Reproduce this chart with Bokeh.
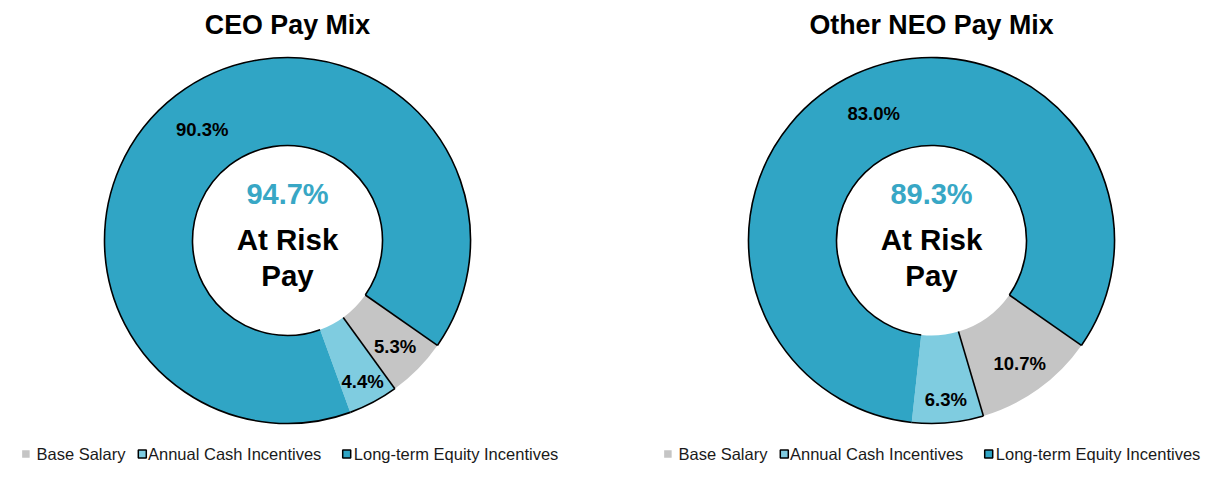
import math
from bokeh.plotting import figure
from bokeh.models import Range1d
from bokeh.core.properties import value
from bokeh.embed import file_html
from bokeh.resources import INLINE

# ---------------- data ----------------
categories = ["Base Salary", "Annual Cash Incentives", "Long-term Equity Incentives"]
titles = ["CEO Pay Mix", "Other NEO Pay Mix"]
ceo_values = [5.3, 4.4, 90.3]
neo_values = [10.7, 6.3, 83.0]
at_risk = [94.7, 89.3]
center_lines = ["At Risk", "Pay"]

# ---------------- style ----------------
colors = ["#C5C5C5", "#7FCCE0", "#30A5C5"]
risk_color = "#38A7C5"
FONT = "Liberation Sans"
first_slice_deg = 125.0          # clockwise from 12 o'clock
label_radius = [151, 160, 140]   # label distance per slice
W, H = 1201, 464
R_OUT, R_IN = 183, 95
centers = [(287, 240), (931, 240)]   # reference pixel coords
legend_offsets = [0, 642]

def Y(py):  # reference pixel y -> data y
    return 480 - py

p = figure(width=W, height=H, x_range=Range1d(0, W), y_range=Range1d(480 - H, 480),
           output_backend="svg", toolbar_location=None, x_axis_type=None, y_axis_type=None,
           min_border=0, outline_line_color=None, background_fill_color="white",
           border_fill_color="white")
p.grid.visible = False

for k, vals in enumerate([ceo_values, neo_values]):
    cx, cy = centers[k][0], Y(centers[k][1])
    total = sum(vals)
    starts, ends = [], []
    acc = first_slice_deg
    for v in vals:
        starts.append(acc)
        acc += v / total * 360.0
        ends.append(acc)
    rad = lambda d: math.radians(90.0 - d)
    # fills
    p.annular_wedge(x=[cx] * 3, y=[cy] * 3, inner_radius=R_IN, outer_radius=R_OUT,
                    start_angle=[rad(s) for s in starts], end_angle=[rad(e) for e in ends],
                    direction="clock", fill_color=colors, line_color=None)
    # outlines: outer arc over annual + LTI, inner arc of LTI, two radial edges
    p.arc(x=[cx, cx], y=[cy, cy], radius=[R_OUT, R_OUT],
          start_angle=[rad(starts[1]), rad(starts[2])], end_angle=[rad(ends[1]), rad(ends[2])],
          direction="clock", line_color="black", line_width=1.6)
    p.arc(x=[cx], y=[cy], radius=[R_IN], start_angle=[rad(starts[2])], end_angle=[rad(ends[2])],
          direction="clock", line_color="black", line_width=1.6)
    edge_angles = [starts[1], ends[2]]
    p.segment(x0=[cx + R_IN * math.cos(rad(a)) for a in edge_angles],
              y0=[cy + R_IN * math.sin(rad(a)) for a in edge_angles],
              x1=[cx + R_OUT * math.cos(rad(a)) for a in edge_angles],
              y1=[cy + R_OUT * math.sin(rad(a)) for a in edge_angles],
              line_color="black", line_width=1.6)
    # data labels
    mids = [(s + e) / 2 for s, e in zip(starts, ends)]
    p.text(x=[cx + r * math.cos(rad(m)) for r, m in zip(label_radius, mids)],
           y=[cy + r * math.sin(rad(m)) for r, m in zip(label_radius, mids)],
           text=[f"{v:.1f}%" for v in vals], text_font=value(FONT), text_font_style="bold",
           text_font_size="18.5px", text_align="center", text_baseline="middle",
           text_color="black")
    # title
    p.text(x=[cx], y=[Y(24.5)], text=[titles[k]], text_font=value(FONT), text_font_style="bold",
           text_font_size="26.8px", text_align="center", text_baseline="middle",
           text_color="black")
    # center text
    p.text(x=[cx], y=[Y(193)], text=[f"{at_risk[k]:.1f}%"], text_font=value(FONT),
           text_font_style="bold", text_font_size="29px", text_align="center",
           text_baseline="middle", text_color=risk_color)
    p.text(x=[cx, cx], y=[Y(238.5), Y(275)], text=center_lines, text_font=value(FONT),
           text_font_style="bold", text_font_size="29.5px", text_align="center",
           text_baseline="middle", text_color="black")
    # legend
    off = legend_offsets[k]
    sq_x = [25.4 + off, 141.8 + off, 346.2 + off]
    tx_x = [36 + off, 147.5 + off, 353.3 + off]
    ly = Y(453.5)
    p.rect(x=sq_x[:1], y=[ly], width=7.5, height=7.5, width_units="screen",
           height_units="screen", fill_color=colors[0], line_color=None)
    p.rect(x=sq_x[1:], y=[ly, ly], width=8, height=8, width_units="screen",
           height_units="screen", fill_color=colors[1:], line_color="black", line_width=1.5)
    p.text(x=tx_x, y=[ly] * 3, text=categories, text_font=value(FONT), text_font_size="16.5px",
           text_align="left", text_baseline="middle", text_color="#1a1a1a")

open("out.html", "w").write(file_html(p, INLINE))
